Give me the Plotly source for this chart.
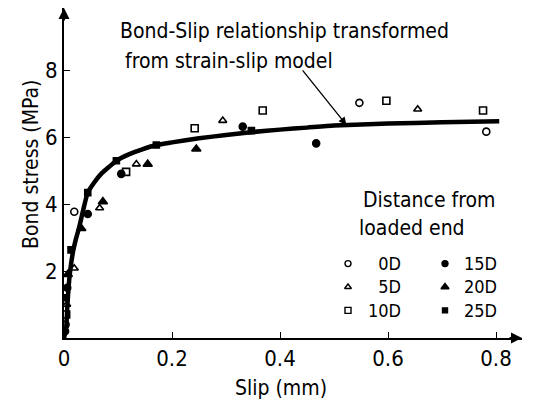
import plotly.graph_objects as go

# ---------------- data ----------------
curve_slip = [0, 0.004, 0.006, 0.008, 0.010, 0.013, 0.017, 0.022, 0.028, 0.036, 0.044,
              0.055, 0.07, 0.085, 0.097, 0.12, 0.145, 0.171, 0.2, 0.25, 0.3, 0.35,
              0.4, 0.45, 0.5, 0.6, 0.7, 0.806]
curve_stress = [0, 0.3, 0.9, 1.4, 1.8, 2.2, 2.6, 2.95, 3.3, 3.85, 4.34,
                4.62, 4.92, 5.13, 5.29, 5.48, 5.63, 5.76, 5.84, 5.96, 6.06, 6.15,
                6.22, 6.28, 6.34, 6.40, 6.44, 6.47]

slip_0D = [0.003, 0.019, 0.547, 0.782]
stress_0D = [0.4, 3.77, 7.02, 6.16]
slip_5D = [0.005, 0.019, 0.066, 0.134, 0.294, 0.655]
stress_5D = [1.0, 2.08, 3.88, 5.19, 6.49, 6.83]
slip_10D = [0.004, 0.115, 0.242, 0.368, 0.597, 0.776]
stress_10D = [0.7, 4.96, 6.26, 6.79, 7.08, 6.79]
slip_15D = [0.002, 0.006, 0.044, 0.106, 0.331, 0.467]
stress_15D = [0.2, 1.5, 3.7, 4.9, 6.31, 5.81]
slip_20D = [0.007, 0.032, 0.072, 0.155, 0.245]
stress_20D = [1.9, 3.27, 4.07, 5.19, 5.64]
slip_25D = [0.004, 0.013, 0.044, 0.097, 0.171, 0.347]
stress_25D = [1.2, 2.63, 4.34, 5.29, 5.76, 6.19]

x_ticks = [0, 0.2, 0.4, 0.6, 0.8]
x_ticklabels = ["0", "0.2", "0.4", "0.6", "0.8"]
y_ticks = [2, 4, 6, 8]
y_ticklabels = ["2", "4", "6", "8"]

series_names = ["0D", "5D", "10D", "15D", "20D", "25D"]
series_x = [slip_0D, slip_5D, slip_10D, slip_15D, slip_20D, slip_25D]
series_y = [stress_0D, stress_5D, stress_10D, stress_15D, stress_20D, stress_25D]

annotation_text = ["Bond-Slip relationship transformed", "from strain-slip model"]
legend_title = ["Distance from", "loaded end"]

# ---------------- style ----------------
W, H = 547, 405
L, R, T, B = 64, 25, 8, 67
FONT = "Liberation Sans Narrow, DejaVu Sans Condensed, Arial Narrow, sans-serif"
symbols = ["circle-open", "triangle-up-open", "square-open", "circle", "triangle-up", "square"]
sizes = [7, 7, 7, 7, 8, 6]
LEG_FS = 18
LEG_GAP = 1.3 * LEG_FS
LEG_MID = 287


def paper(xp, yp):
    return (xp - L) / (W - L - R), (H - B - yp) / (H - T - B)


fig = go.Figure()

fig.add_trace(go.Scatter(x=curve_slip, y=curve_stress, mode="lines",
                         line=dict(color="black", width=4.5, shape="spline", smoothing=0.6),
                         showlegend=False, hoverinfo="skip"))

for name, xs, ys, sym, sz in zip(series_names, series_x, series_y, symbols, sizes):
    fig.add_trace(go.Scatter(x=xs, y=ys, mode="markers", name=name,
                             marker=dict(symbol=sym, size=sz, color="black",
                                         line=dict(color="black", width=1.6)),
                             showlegend=False))

# legend symbols on a pixel overlay axis
leg_px_x = [348, 348, 348, 445, 445, 445]
leg_px_y = [LEG_MID + (k - 1) * LEG_GAP for k in (0, 1, 2, 0, 1, 2)]
for sym, sz, lx, ly in zip(symbols, sizes, leg_px_x, leg_px_y):
    fig.add_trace(go.Scatter(x=[lx], y=[ly], mode="markers", xaxis="x2", yaxis="y2",
                             marker=dict(symbol=sym, size=sz - 1, color="black",
                                         line=dict(color="black", width=1.4)),
                             showlegend=False, hoverinfo="skip"))

annots = []
# legend labels (one block per column)
px_, py_ = paper(403, LEG_MID)
annots.append(dict(x=px_, y=py_, xref="paper", yref="paper",
                   text="<br>".join(series_names[:3]), align="right",
                   showarrow=False, xanchor="right", yanchor="middle",
                   font=dict(family=FONT, size=LEG_FS, color="black")))
px_, py_ = paper(462, LEG_MID)
annots.append(dict(x=px_, y=py_, xref="paper", yref="paper",
                   text="<br>".join(series_names[3:]), align="left",
                   showarrow=False, xanchor="left", yanchor="middle",
                   font=dict(family=FONT, size=LEG_FS, color="black")))
for txt, (lx, ly) in zip(legend_title, [(361, 200), (357, 228)]):
    px_, py_ = paper(lx, ly)
    annots.append(dict(x=px_, y=py_, xref="paper", yref="paper", text=txt,
                       showarrow=False, xanchor="left", yanchor="middle"))

# curve label
for txt, (lx, ly) in zip(annotation_text, [(118, 31), (123, 61)]):
    px_, py_ = paper(lx, ly)
    annots.append(dict(x=px_, y=py_, xref="paper", yref="paper", text=txt,
                       showarrow=False, xanchor="left", yanchor="middle"))
annots.append(dict(x=curve_slip[24] + 0.023, y=6.36, xref="x", yref="y", text="",
                   showarrow=True, ax=-45, ay=-56, arrowhead=2, arrowsize=1.2,
                   arrowwidth=1.3, arrowcolor="black", standoff=0))

# axis titles
px_, py_ = paper(281, 388)
annots.append(dict(x=px_, y=py_, xref="paper", yref="paper", text="Slip (mm)",
                   showarrow=False, xanchor="center", yanchor="middle"))
px_, py_ = paper(31, 165)
annots.append(dict(x=px_, y=py_, xref="paper", yref="paper", text="Bond stress (MPa)",
                   showarrow=False, xanchor="center", yanchor="middle", textangle=-90))

# axis arrows
annots.append(dict(x=1, y=0, xref="paper", yref="paper", text="", showarrow=True,
                   ax=-14, ay=0, arrowhead=2, arrowsize=1.1, arrowwidth=2, arrowcolor="black",
                   standoff=0))
annots.append(dict(x=0, y=1, xref="paper", yref="paper", text="", showarrow=True,
                   ax=0, ay=14, arrowhead=2, arrowsize=1.1, arrowwidth=2, arrowcolor="black",
                   standoff=0))

for a in annots:
    a.setdefault("font", dict(family=FONT, size=21, color="black"))

x_max = (W - R - L) / 540
y_max = (H - B - T) / 33.5

fig.update_layout(
    width=W, height=H,
    margin=dict(l=L, r=R, t=T, b=B),
    paper_bgcolor="white", plot_bgcolor="rgba(0,0,0,0)",
    font=dict(family=FONT, size=21, color="black"),
    showlegend=False,
    annotations=annots,
    xaxis=dict(range=[0, x_max], tickvals=x_ticks, ticktext=x_ticklabels,
               ticks="inside", ticklen=6, tickwidth=1.2, tickcolor="black",
               showline=True, linecolor="black", linewidth=2, showgrid=False,
               zeroline=False, tickfont=dict(family=FONT, size=22)),
    yaxis=dict(range=[0, y_max], tickvals=y_ticks, ticktext=y_ticklabels,
               ticks="inside", ticklen=6, tickwidth=1.2, tickcolor="black",
               showline=True, linecolor="black", linewidth=2, showgrid=False,
               zeroline=False, tickfont=dict(family=FONT, size=22)),
    xaxis2=dict(range=[L, W - R], overlaying="x", anchor="y2", visible=False),
    yaxis2=dict(range=[H - B, T], overlaying="y", anchor="x2", visible=False),
)

fig.write_html("out.html", config={"displayModeBar": False},
               post_script="document.body.style.margin='0';")
